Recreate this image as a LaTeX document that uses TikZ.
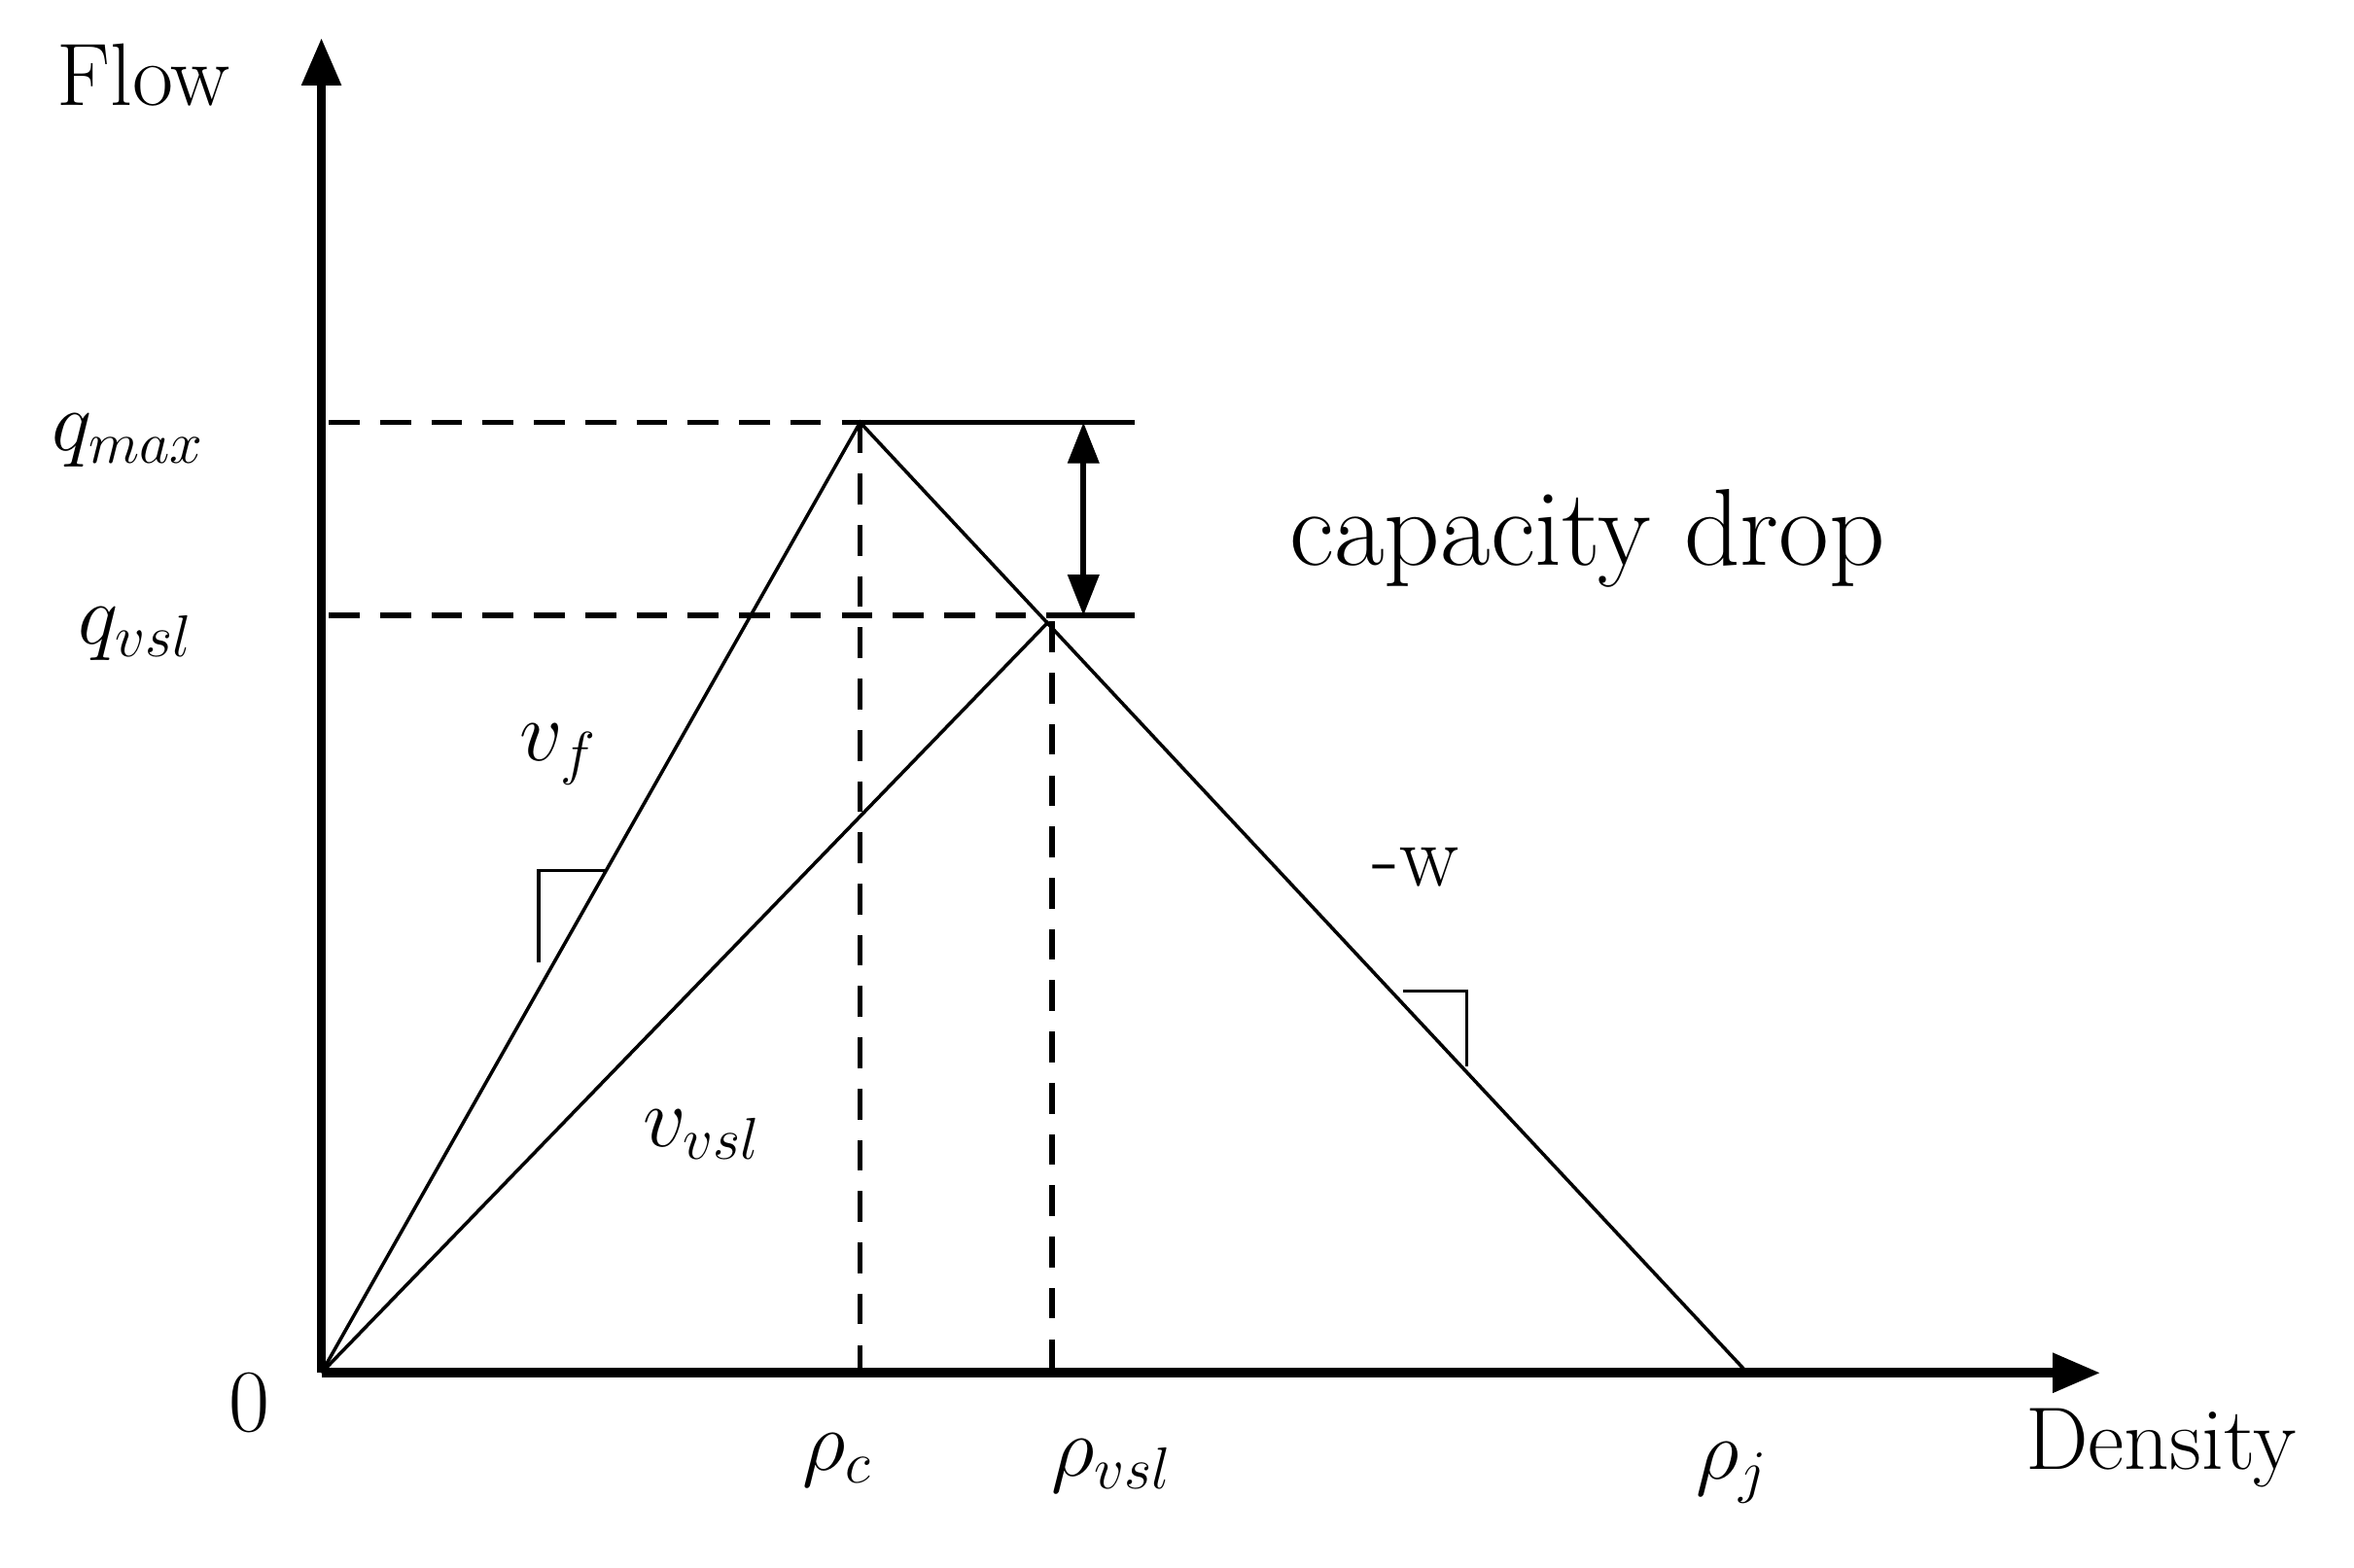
\documentclass[tikz,border=0pt]{standalone}
\usetikzlibrary{arrows.meta}
\begin{document}
\begin{tikzpicture}[x=0.01552cm,y=-0.01552cm,
  axis/.style={line width=2.8pt,-{Triangle[length=14pt,width=11pt]}},
  thin/.style={line width=1pt},
  med/.style={line width=1.6pt},
  dsh/.style={line width=1.6pt,dash pattern=on 9pt off 6pt},
  lbl/.style={font=\fontsize{26}{30}\selectfont,inner sep=0pt}]
\useasboundingbox (0,0) rectangle (1560,1039);
\coordinate (O) at (213,910);
\coordinate (ytop) at (213,25);
\coordinate (xend) at (1392,910);
\coordinate (P1) at (570,280);
\coordinate (P2) at (695,412);
\coordinate (J) at (1158,910);
\coordinate (qm) at (218,280);
\coordinate (qv) at (218,408);
\coordinate (qmr) at (752,280);
\coordinate (qvr) at (752,408);
\coordinate (qv2) at (695,408);
\coordinate (c0) at (570,910);
\coordinate (v0) at (697,910);
\coordinate (v1) at (697,412);
\coordinate (a1) at (718,280);
\coordinate (a2) at (718,408);
\draw[axis] (O) -- (ytop);
\draw[axis] (O) -- (xend);
\draw[dsh] (qm) -- (P1);
\draw[dsh] (qv) -- (qv2);
\draw[med] (P1) -- (qmr);
\draw[med] (qv2) -- (qvr);
\draw[med,{Triangle[length=12pt,width=9pt]}-{Triangle[length=12pt,width=9pt]}] (a1) -- (a2);
\draw[dsh] (P1) -- (c0);
\draw[dsh] (v1) -- (v0);
\draw[thin] (O) -- (P1) -- (J);
\draw[thin] (O) -- (P2);
\coordinate (t1) at (357,638); \coordinate (t2) at (357,577); \coordinate (t3) at (402,577);
\draw[thin] (t1) -- (t2) -- (t3);
\coordinate (w1) at (930,657); \coordinate (w2) at (972,657); \coordinate (w3) at (972,707);
\draw[thin] (w1) -- (w2) -- (w3);
\node[lbl] (flow) at (95,50) {Flow};
\node[lbl] (density) at (1432,960) {Density};
\node[lbl] (zero) at (165,930) {0};
\node[lbl] (qmax) at (85,292) {$q_{max}$};
\node[lbl] (qvsl) at (90,420) {$q_{vsl}$};
\node[lbl] (rc) at (555,968) {$\rho_c$};
\node[lbl] (rv) at (737,972) {$\rho_{vsl}$};
\node[lbl] (rj) at (1148,976) {$\rho_j$};
\node[lbl,font=\fontsize{32}{36}\selectfont] (cap) at (1052,357) {capacity drop};
\node[lbl] (vf) at (370,500) {$v_f$};
\node[lbl] (vv) at (465,752) {$v_{vsl}$};
\node[lbl] (w) at (938,575) {-w};
\end{tikzpicture}
\end{document}
